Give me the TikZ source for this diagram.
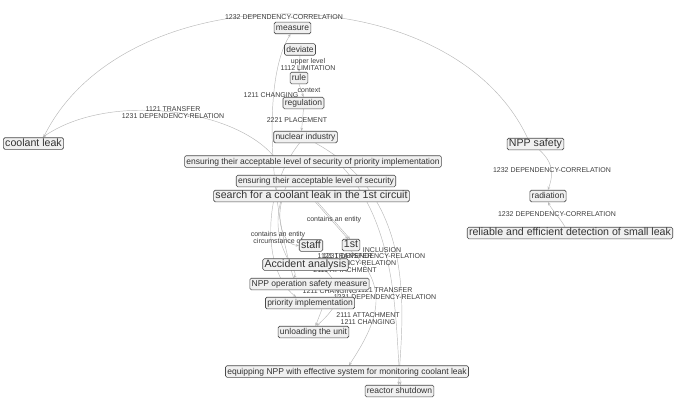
\documentclass[tikz,border=0pt]{standalone}
\usepackage{fontspec}
\setmainfont{Liberation Sans}
\usetikzlibrary{arrows.meta,backgrounds}
\definecolor{edgec}{HTML}{B8B8B8}
\definecolor{nodeb}{HTML}{4A4A4A}
\definecolor{nodef}{HTML}{F0F0F0}
\definecolor{txt}{HTML}{333333}
\definecolor{lblc}{HTML}{3C3C3C}
\tikzset{
  nd/.style={draw=nodeb, fill=nodef, rounded corners=1.5pt, line width=0.6pt,
    inner xsep=1.8pt, inner ysep=1.2pt, text=txt, text height=0.72em, text depth=0.2em,
    font=\fontsize{8.5}{9}\selectfont},
  bignd/.style={nd, font=\fontsize{10.6}{11}\selectfont},
  lbl/.style={text=lblc, align=center, inner sep=0pt, font=\fontsize{7}{7}\selectfont},
  ar/.style={draw=edgec, line width=0.45pt, -{Stealth[length=3.2pt,width=2.8pt,open]}},
}
\begin{document}
\begin{tikzpicture}[x=1pt,y=-1pt]
\useasboundingbox (0,0) rectangle (685,404);
% edge labels
\node[lbl] (l1) at (284,17) {1232 DEPENDENCY-CORRELATION};
\node[lbl] (l2) at (173,113) {1121 TRANSFER\\1231 DEPENDENCY-RELATION};
\node[lbl] (l3) at (308,64) {upper level\\1112 LIMITATION};
\node[lbl] (l4) at (309,90) {context};
\node[lbl] (l5) at (271,95) {1211 CHANGING};
\node[lbl] (l6) at (297,120) {2221 PLACEMENT};
\node[lbl] (l7) at (552,170) {1232 DEPENDENCY-CORRELATION};
\node[lbl] (l8) at (557,214) {1232 DEPENDENCY-CORRELATION};
\node[lbl] (l9) at (334,220) {contains an entity};
\node[lbl] (l10) at (278,237) {contains an entity\\circumstance of};
\node[lbl] (l11) at (382,250) {INCLUSION};
\node[lbl] (l11b) at (374,256.5) {1231 DEPENDENCY-RELATION};
\node[lbl] (l12) at (345,263.5) {1121 TRANSFER\\1231 DEPENDENCY-RELATION\\2111 ATTACHMENT};
\node[lbl] (l13) at (330,291) {1211 CHANGING};
\node[lbl] (l14) at (385,293.5) {1121 TRANSFER\\1231 DEPENDENCY-RELATION};
\node[lbl] (l15) at (368,318.5) {2111 ATTACHMENT\\1211 CHANGING};
% nodes
\node[nd] (measure) at (292.5,28) {measure};
\node[nd] (deviate) at (300,49.5) {deviate};
\node[nd] (rule) at (299,78) {rule};
\node[nd] (regulation) at (303.5,103) {regulation};
\node[nd] (nuclear) at (305.5,137) {nuclear industry};
\node[bignd] (coolant) at (33.5,143.5) {coolant leak};
\node[bignd] (npps) at (535.5,144) {NPP safety};
\node[nd] (ens1) at (313,161.5) {ensuring their acceptable level of security of priority implementation};
\node[nd] (ens2) at (316,181) {ensuring their acceptable level of security};
\node[bignd] (search) at (311.5,196) {search for a coolant leak in the 1st circuit};
\node[nd] (radiation) at (548,196) {radiation};
\node[bignd] (reliable) at (570,233) {reliable and efficient detection of small leak};
\node[bignd] (staff) at (311,245.5) {staff};
\node[bignd] (first) at (351,245) {1st};
\node[bignd] (accident) at (305.5,264.5) {Accident analysis};
\node[nd] (nppop) at (309.5,284) {NPP operation safety measure};
\node[nd] (priority) at (310,303) {priority implementation};
\node[nd] (unloading) at (313.5,332) {unloading the unit};
\node[nd] (equip) at (347,371.5) {equipping NPP with effective system for monitoring coolant leak};
\node[nd] (reactor) at (399.5,391) {reactor shutdown};
% edges (behind nodes)
\begin{scope}[on background layer]
\draw[ar] ([xshift=-8pt]npps.north) .. controls (450,-27) and (125,-27) .. ([xshift=10pt]coolant.north);
\draw[ar] ([xshift=-40pt]ens1.north) .. controls (232,108) and (108,92) .. ([xshift=9pt]coolant.north);
\draw[ar] (deviate.south) -- (rule.north);
\draw[ar] (rule.south) -- (regulation.north);
\draw[ar] (regulation.south) -- ([xshift=-4pt]nuclear.north);
\draw[ar] ([xshift=-16pt]nppop.north) .. controls (270,200) and (262,80) .. ([xshift=-2pt]measure.south);
\draw[ar] ([xshift=4pt]npps.south) .. controls (556,165) and (552,178) .. (radiation.north);
\draw[ar] ([xshift=-5pt]reliable.north) .. controls (560,218) and (552,210) .. (radiation.south);
\draw[ar] ([xshift=4pt]search.south) -- ([xshift=-3pt]first.north);
\draw[ar] ([xshift=6pt]search.south) -- ([xshift=-1pt]first.north);
\draw[ar] ([xshift=-30pt]search.south) .. controls (276,225) and (285,245) .. (staff.west);
\draw[ar] ([xshift=10pt]nuclear.south) .. controls (420,200) and (402,320) .. ([xshift=-1pt]reactor.north);
\draw[ar] ([xshift=30pt]ens1.south) .. controls (400,230) and (395,330) .. ([xshift=1pt]reactor.north);
\draw[ar] ([xshift=-6pt]nuclear.south) .. controls (262,190) and (262,270) .. ([xshift=-14pt]priority.north);
\draw[ar] ([xshift=-30pt]ens2.south) .. controls (262,240) and (300,270) .. ([xshift=-16pt]nppop.north);
\draw[ar] (first.south) .. controls (395,290) and (372,330) .. ([xshift=2pt]equip.north);
\draw[ar] ([xshift=12pt]priority.south) -- ([xshift=2pt]unloading.north);
\draw[ar] ([xshift=20pt]accident.south) .. controls (345,290) and (340,305) .. ([xshift=3pt]unloading.north);
\end{scope}
\end{tikzpicture}
\end{document}
